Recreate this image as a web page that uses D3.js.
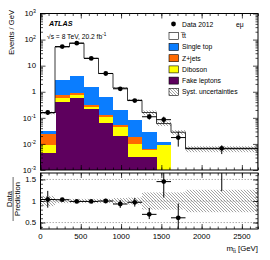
<!DOCTYPE html>
<html>
<head>
<meta charset="utf-8">
<script src="https://cdn.jsdelivr.net/npm/d3@7"></script>
<style>
  body { margin: 0; background: #fff; }
  text { font-family: "Liberation Sans", Arial, sans-serif; fill: #000; }
</style>
</head>
<body>
<div id="chart"></div>
<script>
  // bin edges of m_tt (GeV)
  var binEdges = [0, 180, 360, 540, 720, 900, 1080, 1260, 1440, 1620, 1800, 2700];

  // data, events / GeV
  var dataVals = [0.16, 54, 73, 19, 5.0, 1.3, 0.46, 0.11, 0.085, 0.0175, 0.0068];
  var dataErrUp = [0.2, 0.02, 0.02, 0.03, 0.06, 0.1, 0.12, 0.25, 0.3, 0.7, 0.3];   // relative
  var dataErrDown = [0.19, 0.02, 0.02, 0.03, 0.06, 0.1, 0.11, 0.22, 0.28, 0.55, 0.4];

  // predictions per process, events / GeV
  var fakes = [0.0044, 0.41, 0.6, 0.21, 0.066, 0.020, 0.0032, 0.0032, 0, 0, 0];
  var diboson = [0.0047, 0.15, 0.13, 0.05, 0.044, 0.026, 0.0063, 0.0028, 0.0091, 0, 0];
  var zjets = [0.0145, 0.17, 0.14, 0.04, 0.02, 0.008, 0.0085, 0.0005, 0, 0, 0];
  var singleTop = [0.0084, 2.2, 3.2, 1.25, 0.49, 0.14, 0.066, 0.023, 0.0032, 0, 0];
  var ttbar = [0.123, 49.6, 68, 17.6, 4.4, 1.2, 0.39, 0.13, 0.048, 0.028, 0.0065];

  // relative syst. uncertainty of the prediction
  var systRel = [0.12, 0.05, 0.05, 0.05, 0.05, 0.07, 0.08, 0.2, 0.2, 0.2, 0.26];

  // data / prediction
  var ratioVals = [1.035, 1.03, 0.99, 0.99, 1.0, 0.93, 0.97, 0.69, 1.45, 0.61, 2.2];
  var ratioErrUp = [0.2, 0.02, 0.02, 0.03, 0.05, 0.09, 0.1, 0.15, 0.5, 0.33, 1.0];
  var ratioErrDown = [0.19, 0.02, 0.02, 0.03, 0.05, 0.09, 0.1, 0.11, 0.37, 0.4, 0.97];

  var yLabels = [{v: 1e3, b: "10", e: "3"}, {v: 1e2, b: "10", e: "2"}, {v: 10, b: "10", e: ""},
                 {v: 1, b: "1", e: ""}, {v: 1e-1, b: "10", e: "-1"}, {v: 1e-2, b: "10", e: "-2"},
                 {v: 1e-3, b: "10", e: "-3"}];

  var legendItems = [
    {name: "t\u0305t", color: "#ffffff"},
    {name: "Single top", color: "#0a7dff"},
    {name: "Z+jets", color: "#ff6a00"},
    {name: "Diboson", color: "#ffff00"},
    {name: "Fake leptons", color: "#5e005e"},
    {name: "Syst. uncertainties", color: "hatch"}
  ];

  var W = 270, H = 260;
  var left = 40.5, right = 258, top1 = 13.5, bot1 = 170, top2 = 173, bot2 = 229;

  var svg = d3.select("#chart").append("svg")
    .attr("width", W).attr("height", H);

  var defs = svg.append("defs");
  var pat = defs.append("pattern").attr("id", "hatch")
    .attr("patternUnits", "userSpaceOnUse").attr("width", 3).attr("height", 3);
  pat.append("path").attr("d", "M-1,-1L4,4M-1,2L1,4M2,-1L4,1")
    .attr("stroke", "#666").attr("stroke-width", 0.6);
  defs.append("clipPath").attr("id", "clipTop").append("rect")
    .attr("x", left).attr("y", top1).attr("width", right - left).attr("height", bot1 - top1);
  defs.append("clipPath").attr("id", "clipBot").append("rect")
    .attr("x", left).attr("y", top2).attr("width", right - left).attr("height", bot2 - top2);

  var x = d3.scaleLinear().domain([0, 2700]).range([left, right]);
  var y = d3.scaleLog().domain([1e-3, 1e3]).range([bot1, top1]).clamp(true);
  var yr = d3.scaleLinear().domain([0.35, 1.65]).range([bot2, top2]);

  function yv(v) { return y(Math.max(v, 1e-5)); }

  // build table for stacking
  var table = [];
  for (var i = 0; i < dataVals.length; i++) {
    table.push({lo: binEdges[i], hi: binEdges[i + 1], fakes: fakes[i], diboson: diboson[i],
                zjets: zjets[i], singleTop: singleTop[i], ttbar: ttbar[i]});
  }
  var keys = ["fakes", "diboson", "zjets", "singleTop", "ttbar"];
  var colors = {fakes: "#5e005e", diboson: "#ffff00", zjets: "#ff6a00", singleTop: "#0a7dff", ttbar: "#ffffff"};
  var series = d3.stack().keys(keys)(table);

  var upper = svg.append("g").attr("clip-path", "url(#clipTop)");

  series.forEach(function(s) {
    upper.selectAll(null).data(s).enter().append("rect")
      .attr("x", function(d) { return x(d.data.lo); })
      .attr("width", function(d) { return x(d.data.hi) - x(d.data.lo) + 0.5; })
      .attr("y", function(d) { return yv(d[1]); })
      .attr("height", function(d) { return Math.max(0, yv(d[0]) - yv(d[1])); })
      .attr("fill", colors[s.key])
      .attr("shape-rendering", "crispEdges");
  });

  var totals = table.map(function(d) { return d.fakes + d.diboson + d.zjets + d.singleTop + d.ttbar; });

  // syst band
  upper.selectAll(null).data(table).enter().append("rect")
    .attr("x", function(d) { return x(d.lo); })
    .attr("width", function(d) { return x(d.hi) - x(d.lo); })
    .attr("y", function(d, i) { return yv(totals[i] * (1 + systRel[i])); })
    .attr("height", function(d, i) { return yv(totals[i] * (1 - systRel[i])) - yv(totals[i] * (1 + systRel[i])); })
    .attr("fill", "url(#hatch)");

  // total outline
  var stepPts = [];
  table.forEach(function(d, i) {
    stepPts.push([x(d.lo), yv(totals[i])]);
    stepPts.push([x(d.hi), yv(totals[i])]);
  });
  stepPts.push([x(2700), bot1]);
  upper.append("path")
    .attr("d", d3.line()([[x(0), bot1]].concat(stepPts)))
    .attr("fill", "none").attr("stroke", "#222").attr("stroke-width", 0.9);

  // data points
  var pts = upper.selectAll(null).data(table).enter().append("g");
  pts.append("line")
    .attr("x1", function(d) { return x(d.lo); }).attr("x2", function(d) { return x(d.hi); })
    .attr("y1", function(d, i) { return yv(dataVals[i]); }).attr("y2", function(d, i) { return yv(dataVals[i]); })
    .attr("stroke", "#000").attr("stroke-width", 1);
  pts.append("line")
    .attr("x1", function(d) { return x((d.lo + d.hi) / 2); }).attr("x2", function(d) { return x((d.lo + d.hi) / 2); })
    .attr("y1", function(d, i) { return yv(dataVals[i] * (1 + dataErrUp[i])); })
    .attr("y2", function(d, i) { return yv(dataVals[i] * (1 - dataErrDown[i])); })
    .attr("stroke", "#000").attr("stroke-width", 1);
  pts.append("circle")
    .attr("cx", function(d) { return x((d.lo + d.hi) / 2); })
    .attr("cy", function(d, i) { return yv(dataVals[i]); })
    .attr("r", 2.4).attr("fill", "#000");

  // ratio panel
  var lower = svg.append("g").attr("clip-path", "url(#clipBot)");
  [0.5, 1.0, 1.5].forEach(function(v) {
    lower.append("line").attr("x1", left).attr("x2", right).attr("y1", yr(v)).attr("y2", yr(v))
      .attr("stroke", "#777").attr("stroke-width", 0.6).attr("stroke-dasharray", "1.5,1.5");
  });
  lower.selectAll(null).data(table).enter().append("rect")
    .attr("x", function(d) { return x(d.lo); })
    .attr("width", function(d) { return x(d.hi) - x(d.lo); })
    .attr("y", function(d, i) { return yr(1 + systRel[i]); })
    .attr("height", function(d, i) { return yr(1 - systRel[i]) - yr(1 + systRel[i]); })
    .attr("fill", "url(#hatch)");
  var rp = lower.selectAll(null).data(table).enter().append("g");
  rp.append("line")
    .attr("x1", function(d) { return x(d.lo); }).attr("x2", function(d) { return x(d.hi); })
    .attr("y1", function(d, i) { return yr(ratioVals[i]); }).attr("y2", function(d, i) { return yr(ratioVals[i]); })
    .attr("stroke", "#000").attr("stroke-width", 1);
  rp.append("line")
    .attr("x1", function(d) { return x((d.lo + d.hi) / 2); }).attr("x2", function(d) { return x((d.lo + d.hi) / 2); })
    .attr("y1", function(d, i) { return yr(ratioVals[i] + ratioErrUp[i]); })
    .attr("y2", function(d, i) { return yr(ratioVals[i] - ratioErrDown[i]); })
    .attr("stroke", "#000").attr("stroke-width", 1);
  rp.append("circle")
    .attr("cx", function(d) { return x((d.lo + d.hi) / 2); })
    .attr("cy", function(d, i) { return yr(ratioVals[i]); })
    .attr("r", 2.4).attr("fill", "#000");

  // axes (inward ticks on all sides)
  var xMajor = d3.range(0, 2701, 500), xMinor = d3.range(0, 2701, 100);
  function xTicks(yPos, dir, vals, len) {
    svg.append("g").attr("transform", "translate(0," + yPos + ")")
      .call((dir > 0 ? d3.axisBottom(x) : d3.axisTop(x)).tickValues(vals).tickSize(-len).tickFormat(""))
      .call(function(g) { g.select(".domain").remove(); g.selectAll("line").attr("stroke-width", 0.7); });
  }
  [[bot1, 1], [top1, -1], [bot2, 1], [top2, -1]].forEach(function(p) {
    xTicks(p[0], p[1], xMajor, 5);
    xTicks(p[0], p[1], xMinor, 2.5);
  });

  var yMajor = [1e-3, 1e-2, 1e-1, 1, 10, 100, 1000];
  var yMinor = [];
  yMajor.slice(0, 6).forEach(function(m) { for (var k = 2; k < 10; k++) yMinor.push(m * k); });
  function yTicks(scale, xPos, isLeft, vals, len) {
    svg.append("g").attr("transform", "translate(" + xPos + ",0)")
      .call((isLeft ? d3.axisLeft(scale) : d3.axisRight(scale)).tickValues(vals).tickSize(-len).tickFormat(""))
      .call(function(g) { g.select(".domain").remove(); g.selectAll("line").attr("stroke-width", 0.7); });
  }
  yTicks(y, left, true, yMajor, 5); yTicks(y, left, true, yMinor, 2.5);
  yTicks(y, right, false, yMajor, 5); yTicks(y, right, false, yMinor, 2.5);
  var rMajor = [0.5, 1, 1.5], rMinor = d3.range(0.4, 1.65, 0.1);
  yTicks(yr, left, true, rMajor, 5); yTicks(yr, left, true, rMinor, 2.5);
  yTicks(yr, right, false, rMajor, 5); yTicks(yr, right, false, rMinor, 2.5);

  // frames
  svg.append("rect").attr("x", left).attr("y", top1).attr("width", right - left).attr("height", bot1 - top1)
    .attr("fill", "none").attr("stroke", "#000").attr("stroke-width", 1);
  svg.append("rect").attr("x", left).attr("y", top2).attr("width", right - left).attr("height", bot2 - top2)
    .attr("fill", "none").attr("stroke", "#000").attr("stroke-width", 1);

  // y labels (log)
  yLabels.forEach(function(l) {
    var t = svg.append("text").attr("x", 36).attr("y", y(l.v) + 2.7)
      .attr("text-anchor", "end").style("font-size", "7.8px");
    t.append("tspan").text(l.b);
    if (l.e) t.append("tspan").attr("dy", -3).style("font-size", "5.2px").text(l.e);
  });
  rMajor.forEach(function(v) {
    svg.append("text").attr("x", 36).attr("y", yr(v) + 2.7).attr("text-anchor", "end")
      .style("font-size", "7.8px").text(v === 1 ? "1" : v);
  });
  xMajor.forEach(function(v) {
    svg.append("text").attr("x", x(v)).attr("y", 239).attr("text-anchor", "middle")
      .style("font-size", "7.8px").text(v);
  });

  // axis titles
  svg.append("text").attr("transform", "translate(14,10) rotate(-90)")
    .attr("text-anchor", "end").style("font-size", "7.6px").text("Events / GeV");
  var xt = svg.append("text").attr("x", 258).attr("y", 251).attr("text-anchor", "end").style("font-size", "7.8px");
  xt.append("tspan").text("m");
  xt.append("tspan").attr("dy", 2).style("font-size", "5.2px").text("t\u0305t");
  xt.append("tspan").attr("dy", -2).text(" [GeV]");
  var rt = svg.append("g").attr("transform", "translate(11.5,199) rotate(-90)");
  rt.append("text").attr("text-anchor", "middle").style("font-size", "7.6px").text("Data");
  rt.append("line").attr("x1", -22).attr("x2", 22).attr("y1", 1.6).attr("y2", 1.6)
    .attr("stroke", "#000").attr("stroke-width", 0.6);
  rt.append("text").attr("y", 8.5).attr("text-anchor", "middle").style("font-size", "7.6px").text("Prediction");

  // ATLAS label
  svg.append("text").attr("x", 49).attr("y", 26).style("font-size", "7.2px")
    .style("font-weight", "bold").style("font-style", "italic").text("ATLAS");
  var en = svg.append("text").attr("x", 47).attr("y", 38.5).style("font-size", "6.7px");
  en.append("tspan").text("\u221As = 8 TeV, 20.2 fb");
  en.append("tspan").attr("dy", -2.5).style("font-size", "4.6px").text("-1");

  // legend
  svg.append("circle").attr("cx", 173.5).attr("cy", 24).attr("r", 2.4).attr("fill", "#000");
  svg.append("text").attr("x", 182).attr("y", 26.5).style("font-size", "6.8px").text("Data 2012");
  svg.append("text").attr("x", 236).attr("y", 26.5).style("font-size", "6.8px").text("e\u03BC");
  legendItems.forEach(function(item, i) {
    var cy = 35.8 + i * 11.2;
    svg.append("rect").attr("x", 169).attr("y", cy - 3.5).attr("width", 9.5).attr("height", 7)
      .attr("fill", item.color === "hatch" ? "url(#hatch)" : item.color)
      .attr("stroke", "#000").attr("stroke-width", 0.6);
    svg.append("text").attr("x", 182).attr("y", cy + 2.4).style("font-size", "6.8px").text(item.name);
  });
</script>
</body>
</html>
